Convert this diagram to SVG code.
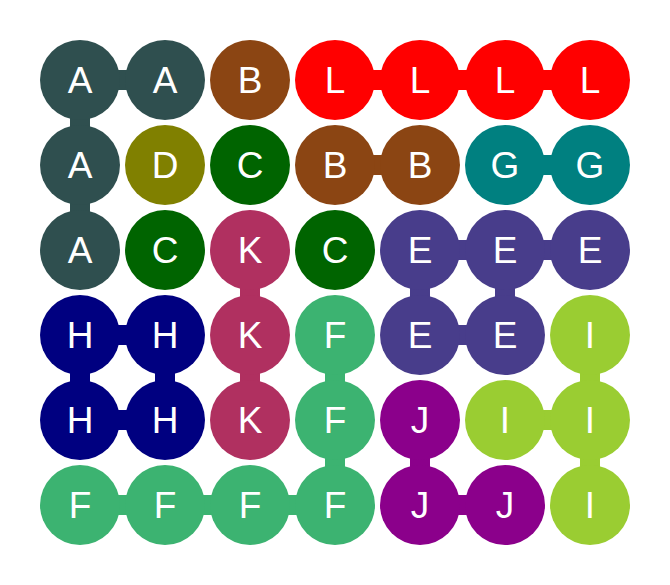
<svg xmlns="http://www.w3.org/2000/svg" width="670" height="585" viewBox="0 0 670 585">
<style>
text{font-family:"Liberation Sans",Arial,sans-serif;font-size:37px;fill:#fff;text-anchor:middle}
.A{fill:#2F4F4F}.B{fill:#8B4513}.C{fill:#006400}.D{fill:#808000}.E{fill:#483D8B}.F{fill:#3CB371}.G{fill:#008080}.H{fill:#000080}.I{fill:#9ACD32}.J{fill:#8B008B}.K{fill:#B03060}.L{fill:#FF0000}
</style>
<rect width="670" height="585" fill="#fff"/>
<g id="connectors">
<rect class="A" x="80" y="70" width="85" height="20"/>
<rect class="L" x="335" y="70" width="255" height="20"/>
<rect class="A" x="70" y="80" width="20" height="170"/>
<rect class="B" x="335" y="155" width="85" height="20"/>
<rect class="G" x="505" y="155" width="85" height="20"/>
<rect class="E" x="420" y="240" width="170" height="20"/>
<rect class="K" x="240" y="250" width="20" height="170"/>
<rect class="E" x="410" y="250" width="20" height="85"/>
<rect class="E" x="495" y="250" width="20" height="85"/>
<rect class="E" x="420" y="325" width="85" height="20"/>
<rect class="H" x="80" y="325" width="85" height="20"/>
<rect class="H" x="80" y="410" width="85" height="20"/>
<rect class="H" x="70" y="335" width="20" height="85"/>
<rect class="H" x="155" y="335" width="20" height="85"/>
<rect class="F" x="325" y="335" width="20" height="170"/>
<rect class="I" x="580" y="335" width="20" height="170"/>
<rect class="I" x="505" y="410" width="85" height="20"/>
<rect class="J" x="410" y="420" width="20" height="85"/>
<rect class="F" x="80" y="495" width="255" height="20"/>
<rect class="J" x="420" y="495" width="85" height="20"/>
</g>
<g id="n00"><circle class="A" cx="80" cy="80" r="40"/><text x="80" y="93">A</text></g>
<g id="n01"><circle class="A" cx="165" cy="80" r="40"/><text x="165" y="93">A</text></g>
<g id="n02"><circle class="B" cx="250" cy="80" r="40"/><text x="250" y="93">B</text></g>
<g id="n03"><circle class="L" cx="335" cy="80" r="40"/><text x="335" y="93">L</text></g>
<g id="n04"><circle class="L" cx="420" cy="80" r="40"/><text x="420" y="93">L</text></g>
<g id="n05"><circle class="L" cx="505" cy="80" r="40"/><text x="505" y="93">L</text></g>
<g id="n06"><circle class="L" cx="590" cy="80" r="40"/><text x="590" y="93">L</text></g>
<g id="n10"><circle class="A" cx="80" cy="165" r="40"/><text x="80" y="178">A</text></g>
<g id="n11"><circle class="D" cx="165" cy="165" r="40"/><text x="165" y="178">D</text></g>
<g id="n12"><circle class="C" cx="250" cy="165" r="40"/><text x="250" y="178">C</text></g>
<g id="n13"><circle class="B" cx="335" cy="165" r="40"/><text x="335" y="178">B</text></g>
<g id="n14"><circle class="B" cx="420" cy="165" r="40"/><text x="420" y="178">B</text></g>
<g id="n15"><circle class="G" cx="505" cy="165" r="40"/><text x="505" y="178">G</text></g>
<g id="n16"><circle class="G" cx="590" cy="165" r="40"/><text x="590" y="178">G</text></g>
<g id="n20"><circle class="A" cx="80" cy="250" r="40"/><text x="80" y="263">A</text></g>
<g id="n21"><circle class="C" cx="165" cy="250" r="40"/><text x="165" y="263">C</text></g>
<g id="n22"><circle class="K" cx="250" cy="250" r="40"/><text x="250" y="263">K</text></g>
<g id="n23"><circle class="C" cx="335" cy="250" r="40"/><text x="335" y="263">C</text></g>
<g id="n24"><circle class="E" cx="420" cy="250" r="40"/><text x="420" y="263">E</text></g>
<g id="n25"><circle class="E" cx="505" cy="250" r="40"/><text x="505" y="263">E</text></g>
<g id="n26"><circle class="E" cx="590" cy="250" r="40"/><text x="590" y="263">E</text></g>
<g id="n30"><circle class="H" cx="80" cy="335" r="40"/><text x="80" y="348">H</text></g>
<g id="n31"><circle class="H" cx="165" cy="335" r="40"/><text x="165" y="348">H</text></g>
<g id="n32"><circle class="K" cx="250" cy="335" r="40"/><text x="250" y="348">K</text></g>
<g id="n33"><circle class="F" cx="335" cy="335" r="40"/><text x="335" y="348">F</text></g>
<g id="n34"><circle class="E" cx="420" cy="335" r="40"/><text x="420" y="348">E</text></g>
<g id="n35"><circle class="E" cx="505" cy="335" r="40"/><text x="505" y="348">E</text></g>
<g id="n36"><circle class="I" cx="590" cy="335" r="40"/><text x="590" y="348">I</text></g>
<g id="n40"><circle class="H" cx="80" cy="420" r="40"/><text x="80" y="433">H</text></g>
<g id="n41"><circle class="H" cx="165" cy="420" r="40"/><text x="165" y="433">H</text></g>
<g id="n42"><circle class="K" cx="250" cy="420" r="40"/><text x="250" y="433">K</text></g>
<g id="n43"><circle class="F" cx="335" cy="420" r="40"/><text x="335" y="433">F</text></g>
<g id="n44"><circle class="J" cx="420" cy="420" r="40"/><text x="420" y="433">J</text></g>
<g id="n45"><circle class="I" cx="505" cy="420" r="40"/><text x="505" y="433">I</text></g>
<g id="n46"><circle class="I" cx="590" cy="420" r="40"/><text x="590" y="433">I</text></g>
<g id="n50"><circle class="F" cx="80" cy="505" r="40"/><text x="80" y="518">F</text></g>
<g id="n51"><circle class="F" cx="165" cy="505" r="40"/><text x="165" y="518">F</text></g>
<g id="n52"><circle class="F" cx="250" cy="505" r="40"/><text x="250" y="518">F</text></g>
<g id="n53"><circle class="F" cx="335" cy="505" r="40"/><text x="335" y="518">F</text></g>
<g id="n54"><circle class="J" cx="420" cy="505" r="40"/><text x="420" y="518">J</text></g>
<g id="n55"><circle class="J" cx="505" cy="505" r="40"/><text x="505" y="518">J</text></g>
<g id="n56"><circle class="I" cx="590" cy="505" r="40"/><text x="590" y="518">I</text></g>
</svg>
